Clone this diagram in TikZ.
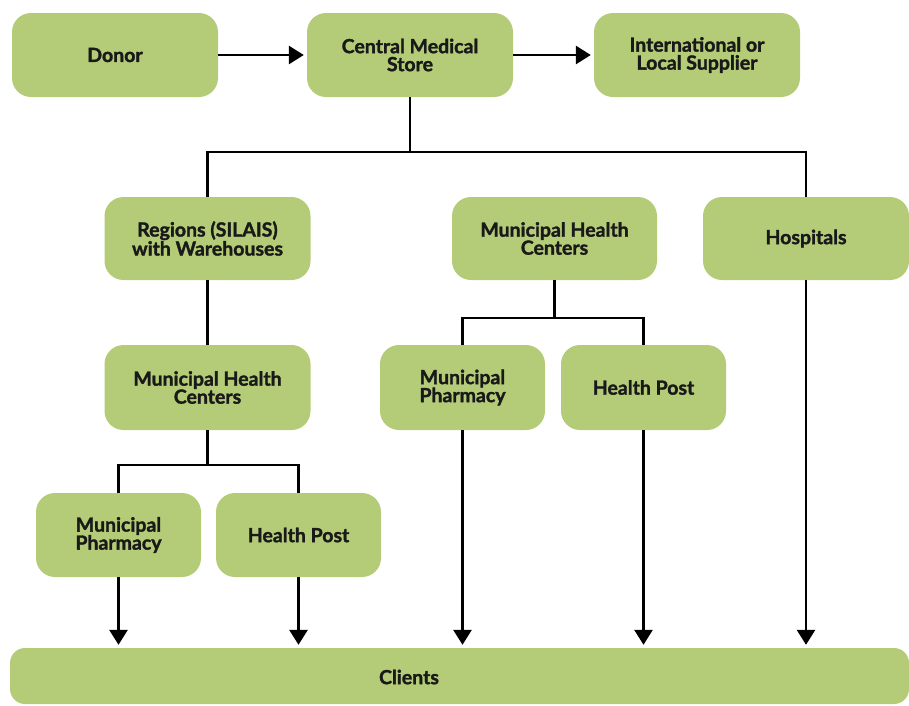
\documentclass[tikz,border=0pt]{standalone}
\usepackage{fontspec}
\setmainfont{Lato}[BoldFeatures={FakeBold=1.6}]
\usetikzlibrary{arrows.meta}
\definecolor{boxgreen}{HTML}{B4CC77}
\tikzset{
  lbl/.style={font=\fontsize{19.5}{18}\selectfont\bfseries, text=black!90},
  box/.style={lbl, draw=none, fill=boxgreen, rounded corners=19pt, align=center, inner sep=0pt},
  wbox/.style={box, minimum width=206pt, minimum height=84pt},
  nbox/.style={box, minimum width=165pt, minimum height=84pt},
  link/.style={line width=2.8pt, black},
  arr/.style={link, -{Triangle[width=18pt,length=15pt]}, shorten >=3pt},
}
\begin{document}
\begin{tikzpicture}[x=1pt, y=-1pt]
\useasboundingbox (0,0) rectangle (909,705);
% top row
\node[wbox] (donor) at (115,55) {Donor};
\node[wbox] (cms) at (410,55) {Central Medical\\Store};
\node[wbox] (sup) at (697,55) {International or\\Local Supplier};
% second row
\node[wbox, minimum height=83pt] (reg) at (207.5,238.5) {Regions (SILAIS)\\with Warehouses};
\node[wbox, minimum width=205pt, minimum height=83pt] (mhc2) at (554.5,238.5) {Municipal Health\\Centers};
\node[wbox, minimum height=83pt] (hosp) at (806,238.5) {Hospitals};
% third row
\node[wbox, minimum height=85pt] (mhc1) at (207.5,387.5) {Municipal Health\\Centers};
\node[nbox, minimum height=85pt] (mp2) at (462.5,387.5) {Municipal\\Pharmacy};
\node[nbox, minimum height=85pt] (hp2) at (643.5,387.5) {Health Post};
% fourth row
\node[nbox] (mp1) at (118.5,535) {Municipal\\Pharmacy};
\node[nbox] (hp1) at (298.5,535) {Health Post};
% clients
\node[box, rounded corners=15pt, minimum width=899pt, minimum height=56pt] (clbox) at (459.5,676) {};
\node[lbl, inner sep=0pt] (clients) at (409,677) {Clients};
% connectors
\draw[arr] (donor.east) -- (cms.west);
\draw[arr] (cms.east) -- (sup.west);
\draw[link] (cms.south) -- (cms.south |- 0,152);
\draw[link] (reg.north) -- (reg.north |- 0,152) -- (hosp.north |- 0,152) -- (hosp.north);
\draw[link] (reg.south) -- (mhc1.north);
\draw[link] (mhc1.south) -- (mhc1.south |- 0,465);
\draw[link] (mp1.north) -- (mp1.north |- 0,465) -- (hp1.north |- 0,465) -- (hp1.north);
\draw[link] (mhc2.south) -- (mhc2.south |- 0,318);
\draw[link] (mp2.north) -- (mp2.north |- 0,318) -- (hp2.north |- 0,318) -- (hp2.north);
\draw[arr] (mp1.south) -- (mp1.south |- clbox.north);
\draw[arr] (hp1.south) -- (hp1.south |- clbox.north);
\draw[arr] (mp2.south) -- (mp2.south |- clbox.north);
\draw[arr] (hp2.south) -- (hp2.south |- clbox.north);
\draw[arr] (hosp.south) -- (hosp.south |- clbox.north);
\end{tikzpicture}
\end{document}
